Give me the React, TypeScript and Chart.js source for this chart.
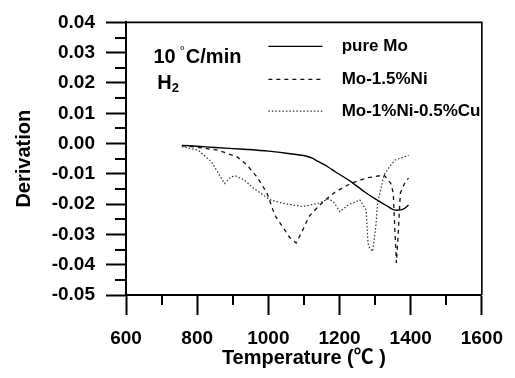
import React, { useEffect, useRef } from "react";
import { Chart, registerables } from "chart.js";

Chart.register(...registerables);

const seriesLabels = ["pure Mo", "Mo-1.5%Ni", "Mo-1%Ni-0.5%Cu"];

const pureMoT = [757, 800, 850, 930, 1000, 1050, 1105, 1125, 1141, 1165, 1188, 1230, 1270, 1305, 1335, 1353, 1371, 1384, 1394];
const pureMoD = [-0.0006, -0.0009, -0.0013, -0.0019, -0.0025, -0.0032, -0.0041, -0.0049, -0.006, -0.0075, -0.0093, -0.0124, -0.0159, -0.0186, -0.0207, -0.0219, -0.0219, -0.0213, -0.0203];

const niT = [757, 800, 858, 913, 940, 968, 996, 1018, 1040, 1060, 1078, 1095, 1114, 1142, 1160, 1188, 1234, 1279, 1325, 1344, 1351, 1355, 1360, 1366, 1371, 1385, 1394];
const niD = [-0.0007, -0.0012, -0.0022, -0.0044, -0.0071, -0.011, -0.0163, -0.0236, -0.0275, -0.031, -0.0328, -0.029, -0.0241, -0.0206, -0.0186, -0.016, -0.013, -0.0113, -0.0104, -0.0131, -0.0163, -0.0274, -0.0394, -0.0274, -0.0163, -0.0126, -0.0114];

const cuT = [757, 803, 840, 877, 895, 908, 932, 959, 1005, 1041, 1096, 1141, 1169, 1183, 1201, 1224, 1257, 1275, 1280, 1284, 1293, 1302, 1307, 1325, 1344, 1357, 1394];
const cuD = [-0.001, -0.0022, -0.006, -0.0132, -0.011, -0.0107, -0.012, -0.0148, -0.0186, -0.0197, -0.0208, -0.0197, -0.0183, -0.0192, -0.0225, -0.0203, -0.0186, -0.022, -0.0328, -0.0344, -0.0356, -0.0274, -0.0197, -0.0104, -0.0071, -0.0054, -0.0039];

const xMin = 600;
const xMax = 1600;
const xStep = 200;
const xMinorTicks = [700, 900, 1100, 1300, 1500];
const yMin = -0.05;
const yMax = 0.04;
const yStep = 0.01;
const yMinorTicks = [0.035, 0.025, 0.015, 0.005, -0.005, -0.015, -0.025, -0.035, -0.045];

const annotRate = { x: 677, y: 0.0285, main: "10", deg: "°", rest: "C/min" };
const annotGas = { x: 688, y: 0.0198, main: "H", sub: "2" };
const legendPos = { lineStart: 1000, lineEnd: 1152, text: 1206, ys: [0.0321, 0.0212, 0.0107] };

const FONT = "'Liberation Sans', Arial, 'Noto Sans CJK SC', sans-serif";

const toPts = (xs: number[], ys: number[]) => xs.map((x, i) => ({ x, y: ys[i] }));

const extrasPlugin = {
  id: "extras",
  afterDraw(chart: any) {
    const ctx = chart.ctx;
    const xs = chart.scales.x;
    const ys = chart.scales.y;
    const area = chart.chartArea;
    ctx.save();
    ctx.strokeStyle = "#000";
    ctx.lineWidth = 1.6;
    ctx.beginPath();
    ctx.moveTo(area.left, area.top);
    ctx.lineTo(area.right, area.top);
    ctx.lineTo(area.right, area.bottom);
    ctx.stroke();
    ctx.lineWidth = 2;
    ctx.beginPath();
    for (const v of yMinorTicks) {
      const p = Math.round(ys.getPixelForValue(v));
      ctx.moveTo(area.left - 11, p);
      ctx.lineTo(area.left, p);
    }
    for (const v of xMinorTicks) {
      const p = Math.round(xs.getPixelForValue(v));
      ctx.moveTo(p, area.bottom);
      ctx.lineTo(p, area.bottom + 10);
    }
    ctx.stroke();

    ctx.fillStyle = "#000";
    ctx.textBaseline = "middle";
    ctx.textAlign = "left";
    let ax = xs.getPixelForValue(annotRate.x);
    const ay = ys.getPixelForValue(annotRate.y);
    ctx.font = `bold 20px ${FONT}`;
    ctx.fillText(annotRate.main, ax, ay);
    ax += ctx.measureText(annotRate.main).width + 4;
    ctx.font = `13px ${FONT}`;
    ctx.fillText(annotRate.deg, ax, ay - 6);
    ax += ctx.measureText(annotRate.deg).width + 1;
    ctx.font = `bold 20px ${FONT}`;
    ctx.fillText(annotRate.rest, ax, ay);

    let gx = xs.getPixelForValue(annotGas.x);
    const gy = ys.getPixelForValue(annotGas.y);
    ctx.fillText(annotGas.main, gx, gy);
    gx += ctx.measureText(annotGas.main).width;
    ctx.font = `bold 13px ${FONT}`;
    ctx.fillText(annotGas.sub, gx, gy + 5);

    const lx0 = xs.getPixelForValue(legendPos.lineStart);
    const lx1 = xs.getPixelForValue(legendPos.lineEnd);
    const tx = xs.getPixelForValue(legendPos.text);
    chart.data.datasets.forEach((ds: any, i: number) => {
      const y = ys.getPixelForValue(legendPos.ys[i]);
      ctx.save();
      ctx.strokeStyle = ds.borderColor;
      ctx.lineWidth = ds.borderWidth;
      ctx.setLineDash(ds.borderDash || []);
      ctx.beginPath();
      ctx.moveTo(lx0, y);
      ctx.lineTo(lx1, y);
      ctx.stroke();
      ctx.restore();
      ctx.font = `bold 17px ${FONT}`;
      ctx.fillStyle = "#000";
      ctx.fillText(ds.label, tx, y);
    });
    ctx.restore();
  },
};

export default function App() {
  const ref = useRef<HTMLCanvasElement | null>(null);
  useEffect(() => {
    if (!ref.current) return;
    const chart = new Chart(ref.current, {
      type: "line",
      data: {
        datasets: [
          { label: seriesLabels[0], data: toPts(pureMoT, pureMoD), borderColor: "#000", borderWidth: 1.4, borderDash: [], pointRadius: 0, tension: 0.2 },
          { label: seriesLabels[1], data: toPts(niT, niD), borderColor: "#111", borderWidth: 1.3, borderDash: [4, 4], pointRadius: 0, tension: 0 },
          { label: seriesLabels[2], data: toPts(cuT, cuD), borderColor: "#333", borderWidth: 1.2, borderDash: [1.5, 2], pointRadius: 0, tension: 0 },
        ],
      },
      options: {
        animation: false,
        responsive: false,
        maintainAspectRatio: false,
        layout: { padding: { top: 21, right: 24, left: 0, bottom: 0 } },
        plugins: { legend: { display: false }, tooltip: { enabled: false } },
        scales: {
          x: {
            type: "linear",
            min: xMin,
            max: xMax,
            ticks: {
              stepSize: xStep,
              color: "#000",
              font: { family: FONT, size: 19, weight: "bold" },
              padding: 12,
              maxRotation: 0,
              callback: (v: any) => String(v),
            },
            grid: { drawOnChartArea: false, drawTicks: true, tickLength: 20, tickWidth: 2, tickColor: "#000" },
            border: { display: true, color: "#000", width: 2 },
            title: { display: true, text: "Temperature (℃ )", color: "#000", font: { family: FONT, size: 20, weight: "bold" }, padding: { top: 0, bottom: 8 } },
            afterFit: (s: any) => { s.height = 83; },
          },
          y: {
            min: yMin,
            max: yMax,
            ticks: {
              stepSize: yStep,
              color: "#000",
              font: { family: FONT, size: 19, weight: "bold" },
              padding: 11,
              callback: (v: any) => Number(v).toFixed(2),
            },
            grid: { drawOnChartArea: false, drawTicks: true, tickLength: 20, tickWidth: 2, tickColor: "#000" },
            border: { display: true, color: "#000", width: 2 },
            title: { display: true, text: "Derivation", color: "#000", font: { family: FONT, size: 20, weight: "bold" }, padding: { top: 12, bottom: 0 } },
            afterFit: (s: any) => { s.width = 126; },
          },
        },
      },
      plugins: [extrasPlugin],
    });
    return () => chart.destroy();
  }, []);
  return (
    <div style={{ position: "fixed", left: 0, top: 0, width: 515, height: 378, background: "#fff" }}>
      <canvas ref={ref} width={515} height={378} style={{ width: 515, height: 378, display: "block" }} />
    </div>
  );
}
